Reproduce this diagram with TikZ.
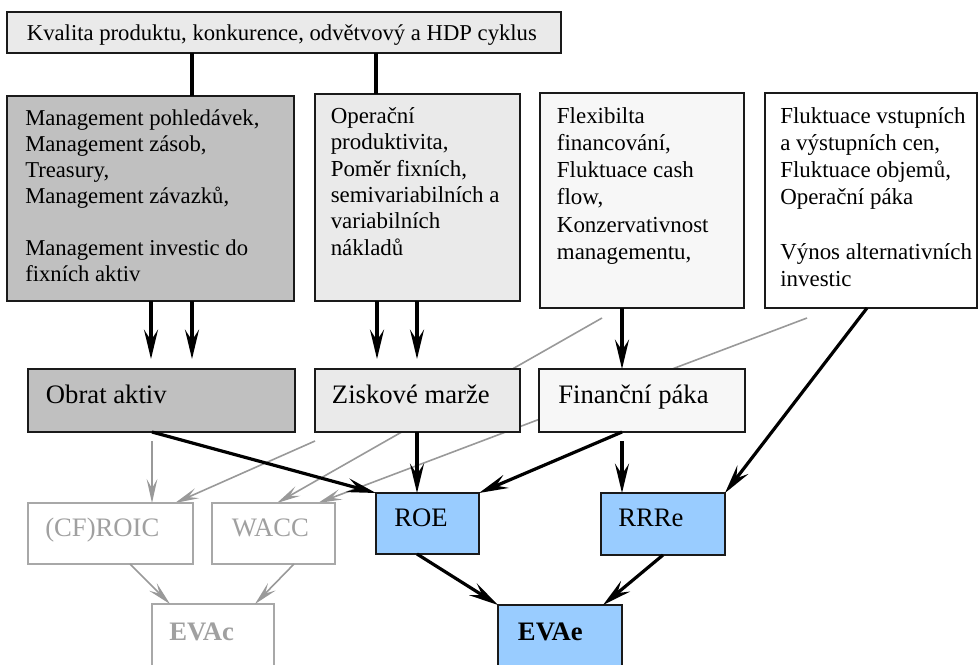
\documentclass[tikz,border=0pt]{standalone}
\usepackage{fontspec}
\setmainfont{Liberation Serif}
\usetikzlibrary{arrows.meta,fit}
\pgfdeclarelayer{bg}
\pgfsetlayers{bg,main}
\definecolor{fillA}{HTML}{C0C0C0}
\definecolor{fillB}{HTML}{EAEAEA}
\definecolor{fillC}{HTML}{F7F7F7}
\definecolor{fillBlue}{HTML}{99CCFF}
\definecolor{lineGray}{HTML}{999999}
\definecolor{boxGray}{HTML}{A8A8A8}
\definecolor{textGray}{HTML}{A0A0A0}
\definecolor{edgeDark}{HTML}{1A1A1A}
\newcommand\fsTop{\fontsize{17pt}{20pt}\selectfont}
\newcommand\fsA{\fontsize{17pt}{19.5pt}\selectfont}
\newcommand\fsB{\fontsize{17.2pt}{19.8pt}\selectfont}
\newcommand\fsC{\fontsize{17.2pt}{20.4pt}\selectfont}
\newcommand\fsOne{\fontsize{20pt}{23pt}\selectfont}
\begin{document}
\begin{tikzpicture}[x=0.75pt,y=-0.75pt,
  box/.style={draw=edgeDark, line width=1.3pt, inner sep=0pt, outer sep=0pt},
  gbox/.style={draw=boxGray, line width=1.3pt, fill=white, inner sep=0pt, outer sep=0pt},
  lbl/.style={anchor=base west, inner sep=0pt, font=\fsOne},
  para/.style={anchor=north west, inner sep=0pt, align=left},
  blk/.style={draw=black, line width=2.4pt},
  blkar/.style={blk, -{Stealth[length=22pt,width=10.5pt,inset=8pt]}},
  gry/.style={draw=lineGray, line width=1.2pt},
  gryar/.style={gry, -{Stealth[length=18pt,width=8pt,inset=7pt]}},
]
\useasboundingbox (0,0) rectangle (978,664);
\clip (0,0) rectangle (978,664);

% boxes
\node[box, fill=fillB, fit={(7,11.7) (561,52.7)}] (top) {};
\node[box, fill=fillA, fit={(7,95.7) (294,301)}] (A) {};
\node[box, fill=fillB, fit={(315,94) (520,301)}] (B) {};
\node[box, fill=fillC, fit={(540,93) (744,308)}] (C) {};
\node[box, fill=white, fit={(765,93) (977,308)}] (D) {};
\node[box, fill=fillA, fit={(28,369) (295,432)}] (obrat) {};
\node[box, fill=fillB, fit={(315,369) (520,432)}] (zisk) {};
\node[box, fill=fillC, fit={(539,369) (745,432)}] (fin) {};
\node[gbox, fit={(28,503) (193,564)}] (roic) {};
\node[gbox, fit={(212,503) (335,564)}] (wacc) {};
\node[gbox, fit={(152,604) (274,700)}] (evac) {};
\node[box, fill=fillBlue, fit={(376,493) (479,554)}] (roe) {};
\node[box, fill=fillBlue, fit={(601,493) (725,555)}] (rrre) {};
\node[box, fill=fillBlue, fit={(498,605) (622,700)}] (evae) {};

% texts
\node[anchor=base west, inner sep=0pt, font=\fsTop] (ttop) at (26.7,40.7) {Kvalita produktu, konkurence, odvětvový a HDP cyklus};
\node[para, font=\fsA] (tA) at (25,105) {\rule{0pt}{15pt}Management pohledávek,\\Management zásob,\\Treasury,\\Management závazků,\\[19.5pt]Management investic do\\fixních aktiv};
\node[para, font=\fsB] (tB) at (330.5,103) {\rule{0pt}{15pt}Operační\\produktivita,\\Poměr fixních,\\semivariabilních a\\variabilních\\nákladů};
\node[para, font=\fsC] (tC) at (556.7,103) {\rule{0pt}{15pt}Flexibilta\\financování,\\Fluktuace cash\\flow,\\Konzervativnost\\managementu,};
\node[para, font=\fsC] (tD) at (780,103) {\rule{0pt}{15pt}Fluktuace vstupních\\a výstupních cen,\\Fluktuace objemů,\\Operační páka\\[20.4pt]Výnos alternativních\\investic};
\node[lbl] (tobrat) at (45.7,403) {Obrat aktiv};
\node[lbl] (tzisk) at (331.7,403) {Ziskové marže};
\node[lbl] (tfin) at (558,403) {Finanční páka};
\node[lbl, text=textGray] (troic) at (45,536.7) {(CF)ROIC};
\node[lbl, text=textGray] (twacc) at (231.7,536.7) {WACC};
\node[lbl] (troe) at (394,526.7) {ROE};
\node[lbl] (trrre) at (618,526.7) {RRRe};
\node[lbl, text=textGray, font=\fsOne\bfseries] (tevac) at (169,640) {EVAc};
\node[lbl, font=\fsOne\bfseries] (tevae) at (517.7,640) {EVAe};

% helper coordinates
\coordinate (x130) at (130,0);
\coordinate (x151) at (151,0);
\coordinate (x152) at (152,0);
\coordinate (x170) at (170,0);
\coordinate (x175) at (175,0);
\coordinate (x192) at (192,0);
\coordinate (x255) at (255,0);
\coordinate (x277) at (277,0);
\coordinate (x294) at (294,0);
\coordinate (x318) at (318,0);
\coordinate (x376) at (376,0);
\coordinate (x377) at (377,0);
\coordinate (x417) at (417,0);
\coordinate (x603) at (603,0);
\coordinate (x622) at (622,0);
\coordinate (x867) at (867,0);
\coordinate (g1) at (602,318);
\coordinate (g2) at (807,318);
\coordinate (g3) at (315,441);

% gray connectors behind boxes
\begin{pgfonlayer}{bg}
\draw[gryar] (g1) -- (wacc.north -| x277);
\draw[gryar] (g2) -- (wacc.north -| x318);
\draw[gryar] (g3) -- (roic.north -| x175);
\end{pgfonlayer}
\draw[gryar, shorten <=6.75pt] (obrat.south -| x152) -- (roic.north -| x152);
\draw[gryar] (roic.south -| x130) -- (evac.north -| x170);
\draw[gryar] (wacc.south -| x294) -- (evac.north -| x255);

% black connectors
\draw[blk, line width=3pt] (top.south -| x192) -- (A.north -| x192);
\draw[blk, line width=3pt] (top.south -| x376) -- (B.north -| x376);
\draw[blkar, shorten >=7.5pt] (A.south -| x151) -- (obrat.north -| x151);
\draw[blkar, shorten >=7.5pt] (A.south -| x192) -- (obrat.north -| x192);
\draw[blkar, shorten >=7.5pt] (B.south -| x377) -- (zisk.north -| x377);
\draw[blkar, shorten >=7.5pt] (B.south -| x417) -- (zisk.north -| x417);
\draw[blkar] (C.south -| x622) -- (fin.north -| x622);
\draw[blkar] (obrat.south -| x152) -- (roe.north west);
\draw[blkar] (zisk.south -| x417) -- (roe.north -| x417);
\draw[blkar] (fin.south -| x622) -- (roe.north east);
\draw[blkar, shorten <=6.75pt] (fin.south -| x622) -- (rrre.north -| x622);
\draw[blkar] (D.south -| x867) -- (rrre.north east);
\draw[blkar] (roe.south -| x417) -- (evae.north west);
\draw[blkar] (rrre.south) -- (evae.north -| x603);
\end{tikzpicture}
\end{document}
